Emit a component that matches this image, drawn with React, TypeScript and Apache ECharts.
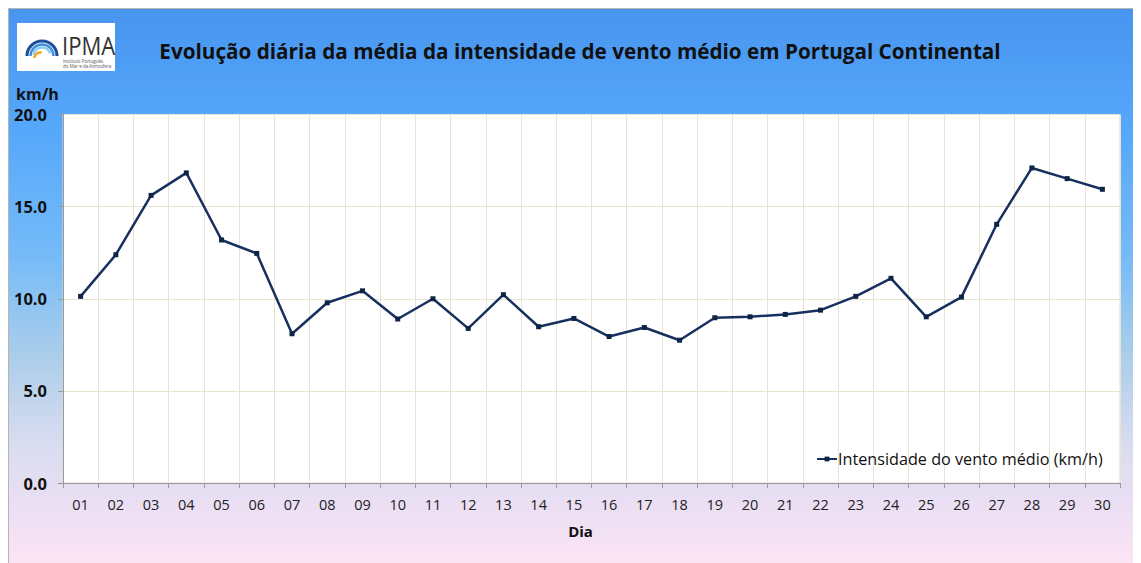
import React, { useEffect, useRef } from "react";
import * as echarts from "echarts";

const days = ["01","02","03","04","05","06","07","08","09","10","11","12","13","14","15","16","17","18","19","20","21","22","23","24","25","26","27","28","29","30"];
const windSpeed = [10.13, 12.39, 15.61, 16.83, 13.19, 12.46, 8.10, 9.78, 10.43, 8.90, 10.0, 8.39, 10.22, 8.48, 8.93, 7.95, 8.44, 7.75, 8.97, 9.02, 9.15, 9.38, 10.13, 11.11, 9.02, 10.09, 14.04, 17.10, 16.52, 15.94];
const yTicks = { min: 0, max: 20, interval: 5 };
const titleText = "Evolução diária da média da intensidade de vento médio em Portugal Continental";
const seriesName = "Intensidade do vento médio (km/h)";

const FONT = "'Open Sans', 'Noto Sans', sans-serif";

export default function App() {
  const ref = useRef<HTMLDivElement>(null);
  useEffect(() => {
    if (!ref.current) return;
    const chart = echarts.init(ref.current, undefined, { renderer: "svg" });
    chart.setOption({
      animation: false,
      backgroundColor: {
        type: "linear", x: 0, y: 0, x2: 0, y2: 1,
        colorStops: [
          { offset: 0, color: "#4895ef" },
          { offset: 0.22, color: "#56a8fb" },
          { offset: 0.45, color: "#76bbf8" },
          { offset: 0.62, color: "#a9cdea" },
          { offset: 0.78, color: "#d8dcf0" },
          { offset: 0.9, color: "#ecdff4" },
          { offset: 1, color: "#fce4f4" },
        ],
      },
      title: {
        text: titleText,
        left: 566,
        top: 26,
        textAlign: "center",
        textStyle: { fontFamily: FONT, fontSize: 20.7, fontWeight: "bold", color: "#111" },
      },
      legend: {
        left: 802,
        top: 437,
        itemWidth: 20,
        itemHeight: 6,
        textStyle: { fontFamily: FONT, fontSize: 16.2, color: "#111", padding: [0, 0, 0, -4] },
        data: [seriesName],
      },
      grid: {
        left: 54,
        right: 21,
        top: 105.5,
        bottom: 80,
        show: true,
        backgroundColor: "#ffffff",
        borderColor: "#d9d9d9",
        borderWidth: 1,
      },
      xAxis: {
        type: "category",
        data: days,
        boundaryGap: true,
        name: "Dia",
        nameLocation: "middle",
        nameGap: 40,
        nameTextStyle: { fontFamily: FONT, fontSize: 15, fontWeight: "bold", color: "#111", padding: [0, 22, 0, 0] },
        axisLine: { show: true, lineStyle: { color: "#9a9a9a", width: 1 } },
        axisTick: { show: true, length: 5, lineStyle: { color: "#9a9a9a" } },
        axisLabel: { fontFamily: FONT, fontSize: 14.5, color: "#222", margin: 14 },
        splitLine: { show: true, lineStyle: { color: "#e8e4cf", width: 1 } },
      },
      yAxis: {
        type: "value",
        min: yTicks.min,
        max: yTicks.max,
        interval: yTicks.interval,
        axisLine: { show: true, lineStyle: { color: "#9a9a9a", width: 1 } },
        axisTick: { show: true, length: 5, lineStyle: { color: "#9a9a9a" } },
        axisLabel: {
          fontFamily: FONT, fontSize: 16.5, fontWeight: "bold", color: "#111", margin: 16,
          formatter: (v: number) => v.toFixed(1),
        },
        splitLine: { show: true, lineStyle: { color: "#e8e4cf", width: 1 } },
      },
      graphic: [
        { type: "rect", shape: { x: 8, y: 14, width: 98, height: 48 }, style: { fill: "#ffffff" } },
        { type: "arc", shape: { cx: 33, cy: 47, r: 15, startAngle: Math.PI, endAngle: 2 * Math.PI }, style: { stroke: "#1b4f9c", lineWidth: 3, fill: "none" } },
        { type: "arc", shape: { cx: 33, cy: 47, r: 11.5, startAngle: Math.PI, endAngle: 2 * Math.PI }, style: { stroke: "#3d8fd8", lineWidth: 2.5, fill: "none" } },
        { type: "arc", shape: { cx: 33, cy: 47, r: 8.5, startAngle: Math.PI * 1.05, endAngle: 1.9 * Math.PI }, style: { stroke: "#86cdf0", lineWidth: 2.5, fill: "none" } },
        { type: "arc", shape: { cx: 31, cy: 49, r: 5.5, startAngle: Math.PI, endAngle: 1.6 * Math.PI }, style: { stroke: "#f5a623", lineWidth: 2.5, fill: "none" } },
        { type: "text", x: 53, y: 23, scaleX: 0.85, style: { text: "IPMA", fontFamily: FONT, fontSize: 26, fill: "#333", textVerticalAlign: "top" } },
        { type: "text", x: 54, y: 49, style: { text: "Instituto Português", fontFamily: FONT, fontSize: 4.5, fill: "#555" } },
        { type: "text", x: 54, y: 54, style: { text: "do Mar e da Atmosfera", fontFamily: FONT, fontSize: 4.5, fill: "#555" } },
        { type: "text", x: 7, y: 77, style: { text: "km/h", fontFamily: FONT, fontSize: 16, fontWeight: "bold", fill: "#111" } },
      ],
      series: [
        {
          name: seriesName,
          type: "line",
          data: windSpeed,
          symbol: "rect",
          symbolSize: 5,
          lineStyle: { color: "#17305f", width: 2.5 },
          itemStyle: { color: "#0e2444" },
        },
      ],
    });
    return () => chart.dispose();
  }, []);
  return (
    <div
      ref={ref}
      style={{ width: 1132, height: 554, borderLeft: "1px solid #b5b5b5", borderTop: "1px solid #b5b5b5" }}
    />
  );
}
